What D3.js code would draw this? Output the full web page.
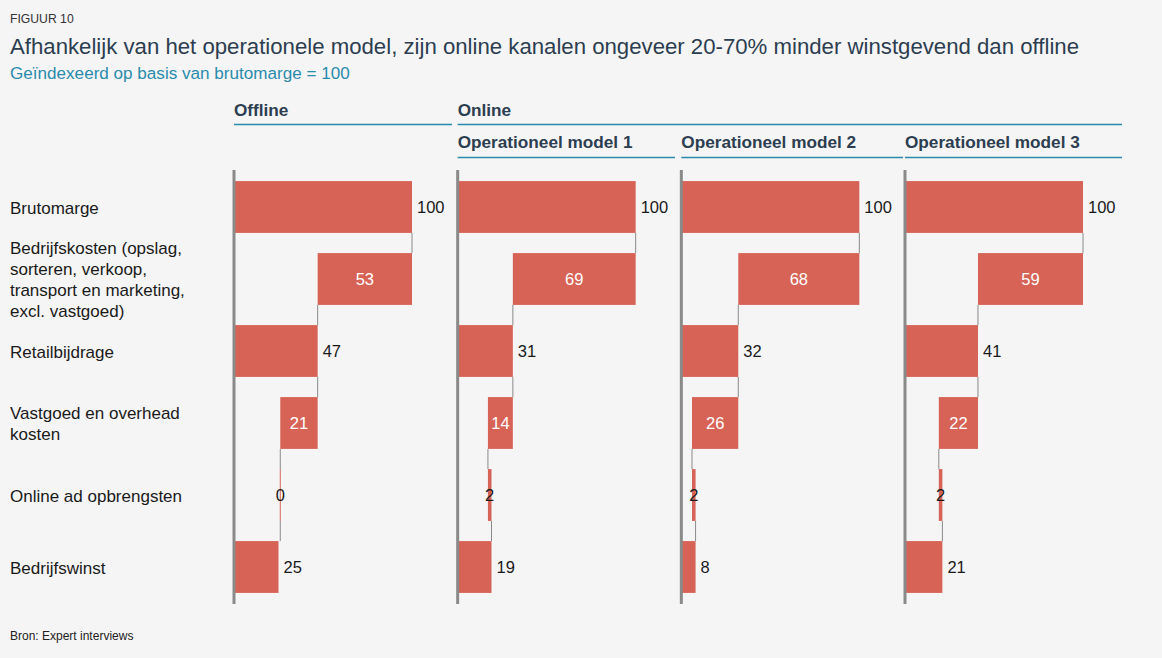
<!DOCTYPE html>
<html>
<head>
<meta charset="utf-8">
<script src="https://cdn.jsdelivr.net/npm/d3@7"></script>
<style>
  html, body { margin: 0; padding: 0; background: #f5f5f5; }
  svg { display: block; font-family: "Liberation Sans", Arial, sans-serif; }
</style>
</head>
<body>
<svg id="chart" width="1162" height="658"></svg>
<script>
// ---- data ----
const rowLabels = [
  ["Brutomarge"],
  ["Bedrijfskosten (opslag,", "sorteren, verkoop,", "transport en marketing,", "excl. vastgoed)"],
  ["Retailbijdrage"],
  ["Vastgoed en overhead", "kosten"],
  ["Online ad opbrengsten"],
  ["Bedrijfswinst"]
];
const rowTypes = ["total", "change", "total", "change", "change", "total"];
const panelNames = ["Offline", "Operationeel model 1", "Operationeel model 2", "Operationeel model 3"];
const offlineValues = [100, -53, 47, -21, 0, 25];
const model1Values  = [100, -69, 31, -14, 2, 19];
const model2Values  = [100, -68, 32, -26, 2, 8];
const model3Values  = [100, -59, 41, -22, 2, 21];
const groupNames = ["Offline", "Online"];
const titleText = "Afhankelijk van het operationele model, zijn online kanalen ongeveer 20-70% minder winstgevend dan offline";
const subtitleText = "Geïndexeerd op basis van brutomarge = 100";
const figLabel = "FIGUUR 10";
const sourceText = "Bron: Expert interviews";

const panelValues = [offlineValues, model1Values, model2Values, model3Values];

// ---- layout ----
const svg = d3.select("#chart");
const W = 1162, H = 658;
svg.append("rect").attr("width", W).attr("height", H).attr("fill", "#f5f5f5");

const C = {
  bar: "#d66356",
  axis: "#8a8a8a",
  conn: "#8a8a8a",
  title: "#2c3e50",
  teal: "#2a8bad",
  header: "#2c3e50",
  text: "#1a1a1a"
};

svg.append("text").attr("x", 10).attr("y", 23).attr("font-size", 12.2).attr("fill", "#333").text(figLabel);
svg.append("text").attr("x", 10).attr("y", 54).attr("font-size", 22.2).attr("fill", C.title).text(titleText);
svg.append("text").attr("x", 10).attr("y", 79).attr("font-size", 17.1).attr("fill", C.teal).text(subtitleText);
svg.append("text").attr("x", 10).attr("y", 640).attr("font-size", 12).attr("fill", "#222").text(sourceText);

const panelX = d3.scalePoint().domain(panelNames).range([234, 905]);
const panelWidth = 178;

const y = d3.scaleBand()
  .domain(d3.range(rowLabels.length))
  .range([171, 603])
  .paddingInner(0.28)
  .paddingOuter(0.14);

// group headers
const headerGroups = [
  {name: groupNames[0], x0: panelX(panelNames[0]), x1: 452},
  {name: groupNames[1], x0: panelX(panelNames[1]), x1: 1122}
];
headerGroups.forEach(g => {
  svg.append("text").attr("x", g.x0).attr("y", 116).attr("font-size", 17.2)
    .attr("font-weight", "bold").attr("fill", C.header).text(g.name);
  svg.append("line").attr("x1", g.x0).attr("x2", g.x1).attr("y1", 124.5).attr("y2", 124.5)
    .attr("stroke", C.teal).attr("stroke-width", 1.3);
});
const subEnds = [675, 903, 1122];
panelNames.slice(1).forEach((p, i) => {
  const x0 = panelX(p);
  svg.append("text").attr("x", x0).attr("y", 148).attr("font-size", 17.2)
    .attr("font-weight", "bold").attr("fill", C.header).text(p);
  svg.append("line").attr("x1", x0).attr("x2", subEnds[i]).attr("y1", 157.5).attr("y2", 157.5)
    .attr("stroke", C.teal).attr("stroke-width", 1.3);
});

// row labels
const lineH = 21;
rowLabels.forEach((lines, i) => {
  const cy = y(i) + y.bandwidth() / 2;
  const t = svg.append("text").attr("font-size", 17).attr("fill", C.text);
  lines.forEach((ln, j) => {
    t.append("tspan").attr("x", 10)
      .attr("y", cy + (j - (lines.length - 1) / 2) * lineH + 6.5)
      .text(ln);
  });
});

// panels
panelNames.forEach((p, pi) => {
  const x0 = panelX(p);
  const x = d3.scaleLinear().domain([0, 100]).range([x0, x0 + panelWidth]);
  const vals = panelValues[pi];
  let running = 0;
  const bars = vals.map((v, i) => {
    let s, e;
    if (rowTypes[i] === "total") { s = 0; e = v; running = v; }
    else { s = running; e = running + v; running = e; }
    return {i, v, s, e, type: rowTypes[i], after: running};
  });
  const g = svg.append("g");

  // connectors
  for (let i = 0; i < bars.length - 1; i++) {
    g.append("line")
      .attr("x1", x(bars[i].after)).attr("x2", x(bars[i].after))
      .attr("y1", y(i) + y.bandwidth()).attr("y2", y(i + 1))
      .attr("stroke", C.conn).attr("stroke-width", 1);
  }

  g.selectAll("rect.bar").data(bars).join("rect")
    .attr("class", "bar")
    .attr("x", d => x(Math.min(d.s, d.e)))
    .attr("width", d => Math.max(Math.abs(x(d.e) - x(d.s)), 0))
    .attr("y", d => y(d.i))
    .attr("height", y.bandwidth())
    .attr("fill", C.bar);

  // zero-width bar: thin line
  bars.filter(d => d.v === 0).forEach(d => {
    g.append("line").attr("x1", x(d.s)).attr("x2", x(d.s))
      .attr("y1", y(d.i)).attr("y2", y(d.i) + y.bandwidth())
      .attr("stroke", C.bar).attr("stroke-width", 1);
  });

  // labels
  bars.forEach(d => {
    const cy = y(d.i) + y.bandwidth() / 2 + 6;
    const wpx = Math.abs(x(d.e) - x(d.s));
    if (d.type === "total") {
      g.append("text").attr("x", x(d.e) + 5).attr("y", cy)
        .attr("font-size", 16.5).attr("fill", C.text).text(Math.abs(d.v));
    } else {
      g.append("text").attr("x", x((d.s + d.e) / 2)).attr("y", cy)
        .attr("text-anchor", "middle").attr("font-size", 16.5)
        .attr("fill", wpx > 15 ? "#ffffff" : C.text).text(Math.abs(d.v));
    }
  });

  // axis line
  g.append("line").attr("x1", x0).attr("x2", x0).attr("y1", 170).attr("y2", 604)
    .attr("stroke", C.axis).attr("stroke-width", 3);
});
</script>
</body>
</html>
